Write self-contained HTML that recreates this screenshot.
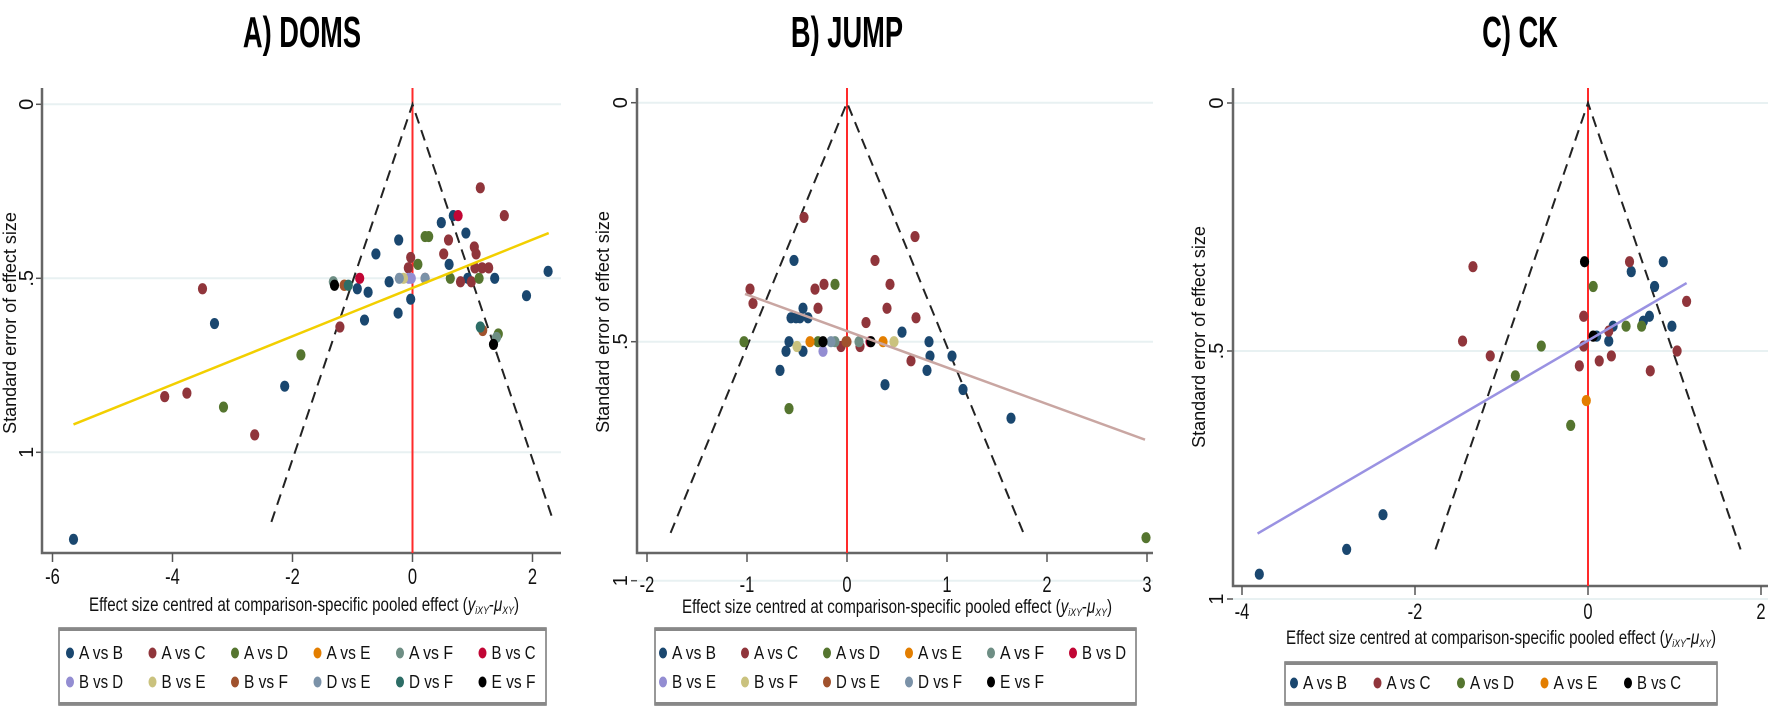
<!DOCTYPE html>
<html><head><meta charset="utf-8"><style>
html,body{margin:0;padding:0;background:#fff;}
svg{display:block;font-family:"Liberation Sans",Arial,sans-serif;}
</style></head><body>
<svg id="chart" width="1772" height="709" viewBox="0 0 1772 709" xmlns="http://www.w3.org/2000/svg">
<rect width="1772" height="709" fill="#fff"/>
</svg>
<script>
// ---------- data ----------
const domsTicksX = [-6,-4,-2,0,2];
const jumpTicksX = [-2,-1,0,1,2,3];
const ckTicksX = [-4,-2,0,2];
const ticksY = [0,0.5,1];
const ticksYLabels = ["0",".5","1"];

const domsSeries = ["A vs B","A vs C","A vs D","A vs E","A vs F","B vs C","B vs D","B vs E","B vs F","D vs E","D vs F","E vs F"];
const domsAvsB = [[0.68,0.32],[0.48,0.34],[0.89,0.37],[-0.23,0.39],[-0.61,0.43],[0.61,0.46],[-0.39,0.51],[-0.92,0.53],[-0.74,0.54],[-0.03,0.56],[-0.24,0.60],[-0.80,0.62],[-2.13,0.81],[-3.30,0.63],[1.37,0.50],[0.92,0.50],[1.90,0.55],[2.26,0.48],[-5.65,1.25]];
const domsAvsC = [[1.13,0.24],[1.53,0.32],[0.60,0.39],[0.52,0.43],[1.03,0.41],[1.06,0.43],[-0.03,0.44],[-0.07,0.47],[0.21,0.50],[0.80,0.51],[0.98,0.51],[1.04,0.47],[1.16,0.47],[1.27,0.47],[-3.50,0.53],[-1.21,0.64],[-4.13,0.84],[-3.76,0.83],[-2.63,0.95]];
const domsAvsD = [[0.21,0.38],[0.27,0.38],[0.09,0.46],[0.63,0.50],[1.11,0.50],[1.43,0.66],[-1.86,0.72],[-3.15,0.87]];
const domsAvsE = [[-1.13,0.52]];
const domsAvsF = [[-1.32,0.51],[1.40,0.67]];
const domsBvsC = [[0.76,0.32],[-0.88,0.50]];
const domsBvsD = [[-0.02,0.50],[-0.06,0.50]];
const domsBvsE = [[-0.15,0.50]];
const domsBvsF = [[-1.14,0.52],[1.17,0.65]];
const domsDvsE = [[-0.22,0.50],[0.21,0.50]];
const domsDvsF = [[-1.07,0.52],[1.13,0.64]];
const domsEvsF = [[-1.30,0.52],[1.35,0.69]];
const domsFit = [[-5.65,0.92],[2.27,0.37]];

const jumpSeries = ["A vs B","A vs C","A vs D","A vs E","A vs F","B vs D","B vs E","B vs F","D vs E","D vs F","E vs F"];
const jumpAvsB = [[-0.53,0.33],[-0.56,0.45],[-0.51,0.45],[-0.44,0.43],[-0.47,0.45],[-0.39,0.45],[-0.58,0.50],[-0.61,0.52],[-0.44,0.52],[-0.67,0.56],[0.55,0.48],[0.82,0.50],[0.83,0.53],[1.05,0.53],[0.80,0.56],[0.38,0.59],[1.16,0.60],[1.64,0.66]];
const jumpAvsC = [[-0.43,0.24],[0.68,0.28],[0.28,0.33],[-0.97,0.39],[-0.94,0.42],[-0.23,0.38],[-0.32,0.39],[0.43,0.38],[-0.29,0.43],[0.40,0.43],[0.69,0.45],[0.19,0.46],[0.64,0.54],[-0.06,0.51],[0.13,0.51]];
const jumpAvsD = [[-0.12,0.38],[-1.03,0.50],[-0.58,0.64],[-0.29,0.50],[2.99,0.91]];
const jumpAvsE = [[-0.37,0.50],[0.36,0.50]];
const jumpAvsF = [[-0.12,0.50],[0.12,0.50]];
const jumpBvsD = [[0.23,0.50]];
const jumpBvsE = [[-0.24,0.52]];
const jumpBvsF = [[-0.50,0.51],[0.47,0.50]];
const jumpDvsE = [[-0.01,0.50],[0.0,0.50]];
const jumpDvsF = [[-0.16,0.50]];
const jumpEvsF = [[-0.24,0.50],[0.24,0.50]];
const jumpFit = [[-1.02,0.40],[2.98,0.705]];

const ckSeries = ["A vs B","A vs C","A vs D","A vs E","B vs C"];
const ckAvsB = [[0.87,0.32],[0.50,0.34],[0.77,0.37],[0.71,0.43],[0.64,0.44],[0.29,0.45],[0.10,0.47],[0.24,0.48],[0.97,0.45],[-2.37,0.83],[-2.79,0.90],[-3.80,0.95]];
const ckAvsC = [[-1.33,0.33],[0.48,0.32],[1.14,0.40],[-0.05,0.43],[0.24,0.46],[-1.45,0.48],[-1.13,0.51],[-0.05,0.49],[1.03,0.50],[0.13,0.52],[0.27,0.51],[-0.10,0.53],[0.72,0.54]];
const ckAvsD = [[0.06,0.37],[0.44,0.45],[0.62,0.45],[-0.54,0.49],[-0.84,0.55],[-0.20,0.65]];
const ckAvsE = [[-0.02,0.60]];
const ckBvsC = [[-0.04,0.32],[0.06,0.47]];
const ckFit = [[-3.82,0.868],[1.14,0.363]];

// ---------- styling ----------
const C = {navy:"#1a476f",maroon:"#90353b",green:"#55752f",orange:"#e37e00",teal:"#6e8e84",cran:"#c10534",lav:"#938dd2",khaki:"#cac27e",sienna:"#a0522d",steel:"#7b92a8",emer:"#2d6d66",black:"#000"};
const NS="http://www.w3.org/2000/svg";
const svg=document.getElementById('chart');
function mk(tag,attrs,parent){const e=document.createElementNS(NS,tag);for(const k in attrs)e.setAttribute(k,attrs[k]);(parent||svg).appendChild(e);return e;}

const panels=[
 {key:"doms",title:"A) DOMS",tx:302,series:domsSeries,data:[domsAvsB,domsAvsC,domsAvsD,domsAvsE,domsAvsF,domsBvsC,domsBvsD,domsBvsE,domsBvsF,domsDvsE,domsDvsF,domsEvsF],
  colors:[C.navy,C.maroon,C.green,C.orange,C.teal,C.cran,C.lav,C.khaki,C.sienna,C.steel,C.emer,C.black],
  fit:domsFit,fitColor:"#f2cf00",ticksX:domsTicksX,x0:412.5,ux:60,y0:104.3,uy:348,left:42,right:561,top:88,bottom:553,
  funnelSe:1.2,xtitleX:304,xtitleY:611,ytitleX:16,ytitleY:323,tickLabY:584,ylabX:33,
  legend:{x:59,y:628,w:487,h:77,cols:6,dx:82.5,mx:70,rows:[653,682]}},
 {key:"jump",title:"B) JUMP",tx:847,series:jumpSeries,data:[jumpAvsB,jumpAvsC,jumpAvsD,jumpAvsE,jumpAvsF,jumpBvsD,jumpBvsE,jumpBvsF,jumpDvsE,jumpDvsF,jumpEvsF],
  colors:[C.navy,C.maroon,C.green,C.orange,C.teal,C.cran,C.lav,C.khaki,C.sienna,C.steel,C.black],
  fit:jumpFit,fitColor:"#c9a6a2",ticksX:jumpTicksX,x0:847,ux:100,y0:102.7,uy:478,left:637,right:1153,top:88,bottom:553,
  funnelSe:0.9,xtitleX:897,xtitleY:613,ytitleX:609,ytitleY:322,tickLabY:592,ylabX:627,
  legend:{x:655,y:628,w:481,h:77,cols:6,dx:82,mx:663,rows:[653,682]}},
 {key:"ck",title:"C) CK",tx:1520,series:ckSeries,data:[ckAvsB,ckAvsC,ckAvsD,ckAvsE,ckBvsC],
  colors:[C.navy,C.maroon,C.green,C.orange,C.black],
  fit:ckFit,fitColor:"#9a92e2",ticksX:ckTicksX,x0:1588,ux:86.5,y0:103,uy:496,left:1233,right:1768,top:88,bottom:586,
  funnelSe:0.9,xtitleX:1501,xtitleY:644,ytitleX:1205,ytitleY:337,tickLabY:619,ylabX:1223,
  legend:{x:1285,y:662,w:432,h:43,cols:5,dx:83.5,mx:1294,rows:[683]}}
];

panels.forEach(p=>{
  const X=v=>p.x0+v*p.ux, Y=v=>p.y0+v*p.uy;
  const g=mk('g',{});
  
  
  const t=mk('text',{x:p.tx,y:47,'text-anchor':'middle','font-size':44,'font-weight':'bold',fill:'#000',transform:`translate(${p.tx},0) scale(0.62,1) translate(${-p.tx},0)`},g);
  t.textContent=p.title;
  
  
  ticksY.forEach((v,i)=>{
    const y=Y(v);
    const gl=mk('line',{x1:p.left,x2:p.right,y1:y,y2:y,stroke:'#e8f1f2','stroke-width':2},g);
    
    
    mk('line',{x1:p.left-6,x2:p.left,y1:y,y2:y,stroke:'#555','stroke-width':1.5},g);
    const tl=mk('text',{x:p.ylabX,y:y,'text-anchor':'middle','font-size':20,fill:'#111',transform:`rotate(-90 ${p.ylabX} ${y})`},g);
    tl.textContent=ticksYLabels[i];
    
    
  });
  const ax=mk('path',{d:`M${p.left},${p.top} V${p.bottom} H${p.right}`,fill:'none',stroke:'#666','stroke-width':2.5},g);
  
  
  p.ticksX.forEach(v=>{
    const x=X(v);
    mk('line',{x1:x,x2:x,y1:p.bottom,y2:p.bottom+9,stroke:'#555','stroke-width':1.5},g);
    const tl=mk('text',{x:x,y:p.tickLabY,'text-anchor':'middle','font-size':22,fill:'#111',transform:`translate(${x},0) scale(0.75,1) translate(${-x},0)`},g);
    tl.textContent=String(v);
    
    
  });
  const xt=mk('text',{x:p.xtitleX-215,y:p.xtitleY,'font-size':19,fill:'#111',textLength:430,lengthAdjust:'spacingAndGlyphs'},g);
  xt.innerHTML='Effect size centred at comparison-specific pooled effect (<tspan font-style="italic">y</tspan><tspan font-style="italic" font-size="11" dy="3">iXY</tspan><tspan dy="-3">-</tspan><tspan font-style="italic">μ</tspan><tspan font-style="italic" font-size="11" dy="3">XY</tspan><tspan dy="-3">)</tspan>';
  
  
  const yt=mk('text',{x:p.ytitleX,y:p.ytitleY,'text-anchor':'middle','font-size':18,fill:'#111',transform:`rotate(-90 ${p.ytitleX} ${p.ytitleY})`},g);
  yt.textContent='Standard error of effect size';
  
  
  const rl=mk('line',{x1:X(0),x2:X(0),y1:p.top,y2:p.bottom,stroke:'#ff2a2a','stroke-width':2},g);
  
  
  const fs=p.funnelSe;
  const fn=mk('path',{d:`M${X(-1.96*fs)},${Y(fs)} L${X(0)},${Y(0)} L${X(1.96*fs)},${Y(fs)}`,fill:'none',stroke:'#222','stroke-width':2,'stroke-dasharray':'11 7'},g);
  
  
  p.data.forEach((arr,si)=>{
    arr.forEach(pt=>{
      const e=mk('ellipse',{cx:X(pt[0]),cy:Y(pt[1]),rx:4.6,ry:5.6,fill:p.colors[si]},g);
      
      
    });
  });
  const fl=mk('line',{x1:X(p.fit[0][0]),y1:Y(p.fit[0][1]),x2:X(p.fit[1][0]),y2:Y(p.fit[1][1]),stroke:p.fitColor,'stroke-width':2.5},g);
  
  
  const L=p.legend;
  const lg=mk('g',{},g);
  
  
  mk('rect',{x:L.x,y:L.y,width:L.w,height:L.h,fill:'#fff',stroke:'#777','stroke-width':1.5},lg);
  mk('line',{x1:L.x,x2:L.x+L.w,y1:L.y+1.5,y2:L.y+1.5,stroke:'#888','stroke-width':3},lg);
  mk('line',{x1:L.x,x2:L.x+L.w,y1:L.y+L.h-1.5,y2:L.y+L.h-1.5,stroke:'#888','stroke-width':3},lg);
  p.series.forEach((name,i)=>{
    const r=Math.floor(i/L.cols), c=i%L.cols;
    const mx=L.mx+c*L.dx, my=L.rows[r];
    const en=mk('g',{},lg);
    
    
    mk('ellipse',{cx:mx,cy:my,rx:4,ry:5.5,fill:p.colors[i]},en);
    const tx=mk('text',{x:mx+9,y:my+6,'font-size':18,fill:'#111',textLength:44,lengthAdjust:'spacingAndGlyphs'},en);
    tx.textContent=name;
  });
});
</script>
</body></html>
